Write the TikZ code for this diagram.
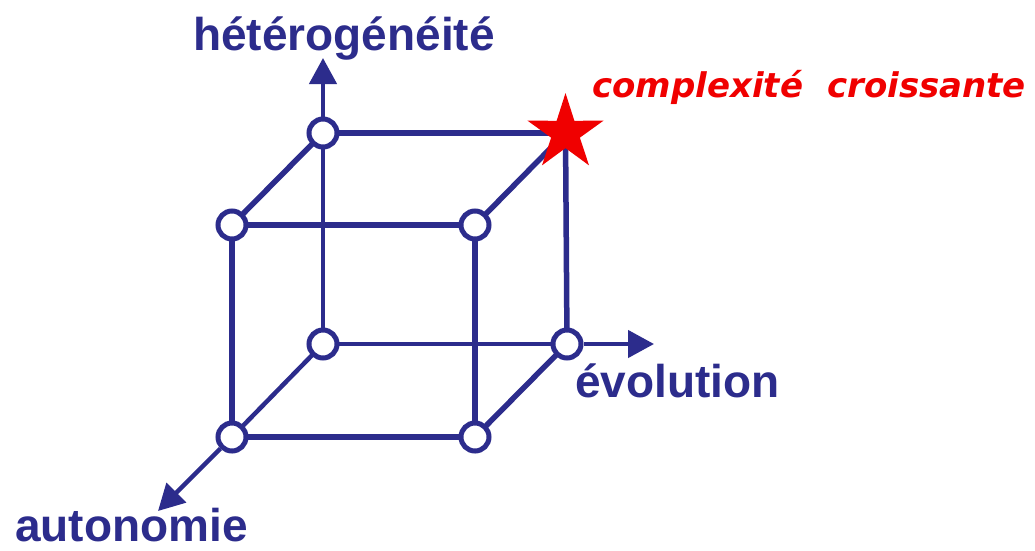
\documentclass[tikz,border=0pt]{standalone}
\usepackage{fontspec}
\setmainfont{Liberation Sans}
\newfontfamily\redfont{DejaVu Sans}
\usetikzlibrary{shapes.geometric,arrows.meta,backgrounds}
\definecolor{cubeblue}{RGB}{44,44,140}
\definecolor{starred}{RGB}{240,0,0}
\begin{document}
\begin{tikzpicture}[x=1pt,y=-1pt,
  vertex/.style={circle,draw=cubeblue,fill=white,line width=5pt,minimum size=28pt,inner sep=0pt},
  edge/.style={draw=cubeblue,line width=5.5pt},
  backedge/.style={draw=cubeblue,line width=4.5pt},
  axis/.style={draw=cubeblue,line width=4.5pt,-{Triangle[length=26pt,width=27pt]}},
  lbl/.style={text=cubeblue,font=\fontsize{46}{50}\selectfont\bfseries,anchor=base west,inner sep=0pt},
  redlbl/.style={text=starred,font=\fontsize{34}{40}\selectfont\redfont\bfseries\itshape,anchor=base west,inner sep=0pt},
  starnode/.style={star,star points=5,star point ratio=2.65,minimum size=80pt,inner sep=0pt,fill=starred},
]
\useasboundingbox (0,0) rectangle (1035,550);

% vertices
\node[vertex] (A) at (232,225) {};
\node[vertex] (B) at (475,225) {};
\node[vertex] (C) at (232,437) {};
\node[vertex] (D) at (475,437) {};
\node[vertex] (E) at (323,133) {};
\node[starnode] (F) at (565.5,133) {};
\node[vertex] (G) at (323,344) {};
\node[vertex] (H) at (567,344) {};

% axis tips
\coordinate (ytip) at (323,58);
\coordinate (xtip) at (654,344);
\coordinate (ztip) at (158,511);

\begin{scope}[on background layer]
  \fill[white] (0,0) rectangle (1035,550);
  \draw[backedge] (E.center) -- (G.center);
  \draw[backedge] (G.center) -- (H.center);
  \draw[backedge] (C.center) -- (G.center);
  \draw[edge] (A.center) -- (B.center);
  \draw[edge] (B.center) -- (D.center);
  \draw[edge] (D.center) -- (C.center);
  \draw[edge] (C.center) -- (A.center);
  \draw[edge] (E.center) -- (F.center);
  \draw[edge] (F.center) -- (H.center);
  \draw[edge] (A.center) -- (E.center);
  \draw[edge] (B.center) -- (F.center);
  \draw[edge] (D.center) -- (H.center);
  \draw[axis] (E) -- (ytip);
  \draw[axis] (H) -- (xtip);
  \draw[axis] (C) -- (ztip);
\end{scope}

% labels
\node[lbl] (lh) at (193,50) {hétérogénéité};
\node[lbl] (le) at (575,397) {évolution};
\node[lbl] (la) at (15,541) {autonomie};
\node[redlbl] (lc) at (592,97) {complexité\hspace{24pt}croissante};
\end{tikzpicture}
\end{document}
